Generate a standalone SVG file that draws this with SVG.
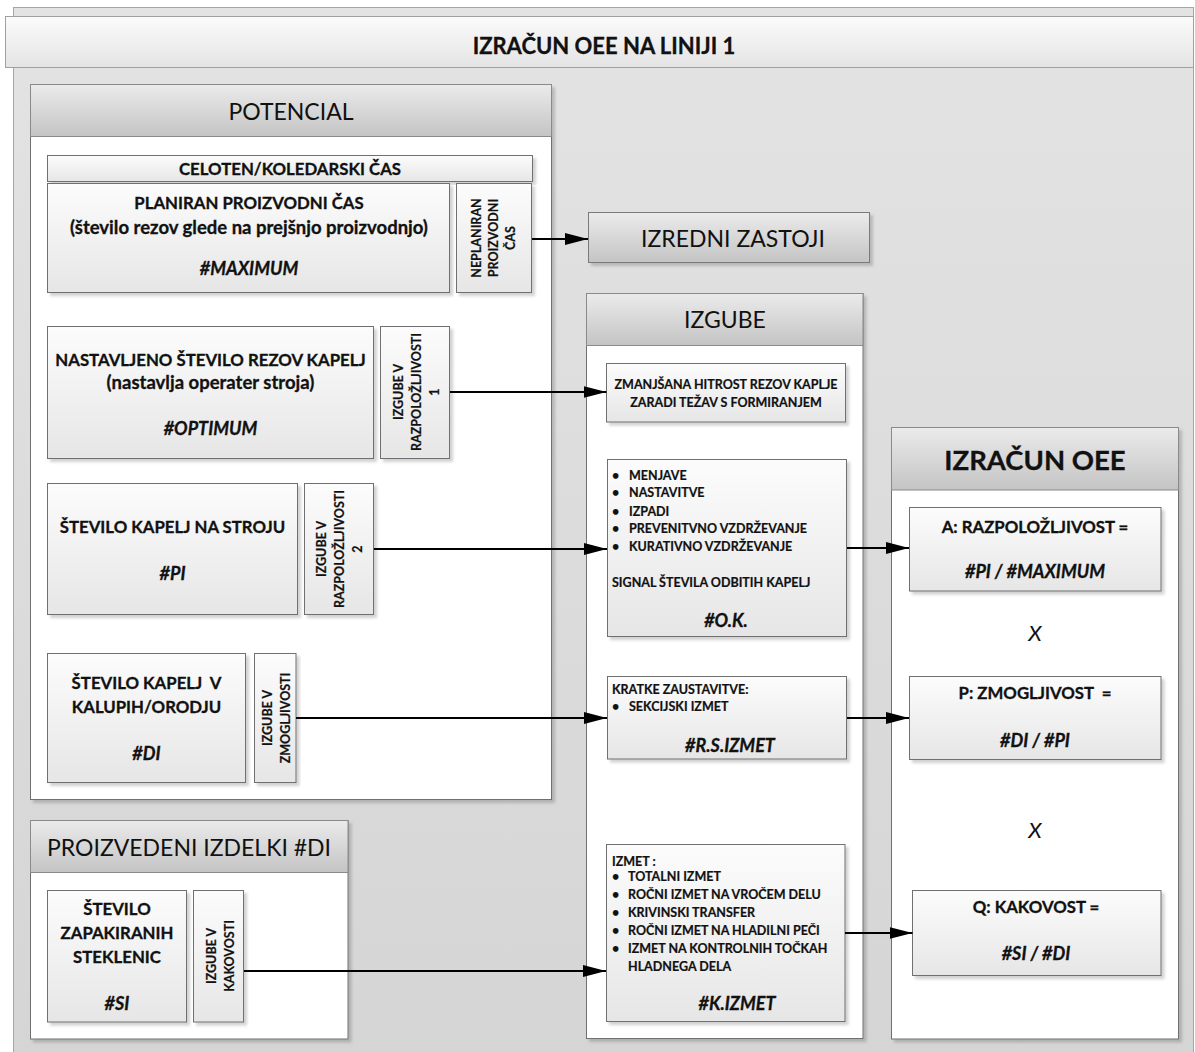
<svg xmlns="http://www.w3.org/2000/svg" width="1195" height="1052" viewBox="0 0 1195 1052">
  <style>
    text { font-family: Lato, "Liberation Sans", sans-serif; fill: #111; }
    .c { text-anchor: middle; }
    .b { font-weight: bold; stroke: #111; stroke-width: 0.3; }
    .hdr { font-size: 23px; text-anchor: middle; }
    .t16 { font-size: 16.8px; font-weight: bold; text-anchor: middle; stroke: #111; stroke-width: 0.3; }
    .low { font-size: 18.5px; }
    .i { font-style: italic; font-weight: bold; font-size: 18px; }
    .t12 { font-size: 12.5px; font-weight: bold; stroke: #111; stroke-width: 0.2; }
    .rot { font-size: 12.5px; font-weight: bold; text-anchor: middle; stroke: #111; stroke-width: 0.2; }
    .x { font-style: italic; font-size: 22px; text-anchor: middle; }
    .node { fill: url(#gBox); stroke: #6f6f6f; stroke-width: 1; filter: url(#shadow); }
    .cont { fill: #fff; stroke: #6f6f6f; stroke-width: 1; filter: url(#shadow); }
    .chead { fill: url(#gHead); stroke: #8a8a8a; stroke-width: 1; }
    .wire { stroke: #000; stroke-width: 2.2; fill: none; marker-end: url(#arrow); }
  </style>
  <defs>
    <linearGradient id="gBg" x1="0" y1="0" x2="0" y2="1">
      <stop offset="0" stop-color="#e3e3e3"/>
      <stop offset="1" stop-color="#d5d5d5"/>
    </linearGradient>
    <linearGradient id="gTitle" x1="0" y1="0" x2="0" y2="1">
      <stop offset="0" stop-color="#fbfbfb"/>
      <stop offset="1" stop-color="#e4e4e4"/>
    </linearGradient>
    <linearGradient id="gHead" x1="0" y1="0" x2="0" y2="1">
      <stop offset="0" stop-color="#ebebeb"/>
      <stop offset="1" stop-color="#c4c4c4"/>
    </linearGradient>
    <linearGradient id="gBox" x1="0" y1="0" x2="0" y2="1">
      <stop offset="0" stop-color="#fcfcfc"/>
      <stop offset="1" stop-color="#e6e6e6"/>
    </linearGradient>
    <filter id="shadow" x="-5%" y="-5%" width="115%" height="115%">
      <feDropShadow dx="3" dy="3" stdDeviation="1.5" flood-color="#000" flood-opacity="0.18"/>
    </filter>
    <marker id="arrow" markerUnits="userSpaceOnUse" markerWidth="24" markerHeight="14" refX="23" refY="7" orient="auto">
      <path d="M0,1 L23,7 L0,13 z" fill="#000"/>
    </marker>
  </defs>

  <!-- page background and title bar -->
  <rect x="13.5" y="7.5" width="1180" height="1060" fill="url(#gBg)" stroke="#a6a6a6"/>
  <g id="title">
    <rect x="5.5" y="16.5" width="1188" height="51" fill="url(#gTitle)" stroke="#a0a0a0"/>
    <text x="604" y="54" class="b c" font-size="22">IZRAČUN OEE NA LINIJI 1</text>
  </g>

  <!-- POTENCIAL group -->
  <g id="potencial">
    <rect x="30.5" y="84.5" width="521" height="715" class="cont"/>
    <rect x="30.5" y="84.5" width="521" height="52" class="chead"/>
    <text x="291" y="120" class="hdr">POTENCIAL</text>
  </g>
  <g id="celoten">
    <rect x="47.5" y="155.5" width="485" height="26" class="node"/>
    <text x="290" y="175" class="t16" font-size="16">CELOTEN/KOLEDARSKI ČAS</text>
  </g>
  <g id="planiran">
    <rect x="47.5" y="183.5" width="402" height="109" class="node"/>
    <text x="249" y="209" class="t16" font-size="16.2">PLANIRAN PROIZVODNI ČAS</text>
    <text x="249" y="233.5" class="t16 low">(število rezov glede na prejšnjo proizvodnjo)</text>
    <text x="249" y="274.5" class="t16 i">#MAXIMUM</text>
  </g>
  <g id="neplaniran">
    <rect x="456.5" y="183.5" width="75" height="109" class="node"/>
    <g transform="translate(493,238) rotate(-90)">
      <text x="0" y="-12.5" class="rot">NEPLANIRAN</text>
      <text x="0" y="4.5" class="rot">PROIZVODNI</text>
      <text x="0" y="21.5" class="rot">ČAS</text>
    </g>
  </g>
  <g id="nastavljeno">
    <rect x="47.5" y="326.5" width="326" height="132" class="node"/>
    <text x="210.5" y="366" class="t16">NASTAVLJENO ŠTEVILO REZOV KAPELJ</text>
    <text x="210.5" y="388.5" class="t16 low">(nastavlja operater stroja)</text>
    <text x="210.5" y="434.5" class="t16 i">#OPTIMUM</text>
  </g>
  <g id="izgube-r1">
    <rect x="380.5" y="326.5" width="69" height="132" class="node"/>
    <g transform="translate(416,392) rotate(-90)">
      <text x="0" y="-13.5" class="rot">IZGUBE V</text>
      <text x="0" y="4.5" class="rot">RAZPOLOŽLJIVOSTI</text>
      <text x="0" y="22.5" class="rot">1</text>
    </g>
  </g>
  <g id="stevilo-stroj">
    <rect x="47.5" y="483.5" width="250" height="131" class="node"/>
    <text x="172.5" y="533" class="t16">ŠTEVILO KAPELJ NA STROJU</text>
    <text x="172.5" y="579.5" class="t16 i">#PI</text>
  </g>
  <g id="izgube-r2">
    <rect x="304.5" y="483.5" width="69" height="131" class="node"/>
    <g transform="translate(339,549) rotate(-90)">
      <text x="0" y="-13.5" class="rot">IZGUBE V</text>
      <text x="0" y="4.5" class="rot">RAZPOLOŽLJIVOSTI</text>
      <text x="0" y="22.5" class="rot">2</text>
    </g>
  </g>
  <g id="stevilo-kalupi">
    <rect x="47.5" y="653.5" width="198" height="129" class="node"/>
    <text x="146.5" y="689" class="t16" xml:space="preserve">ŠTEVILO KAPELJ  V</text>
    <text x="146.5" y="713" class="t16">KALUPIH/ORODJU</text>
    <text x="146.5" y="759.5" class="t16 i">#DI</text>
  </g>
  <g id="izgube-zmog">
    <rect x="254.5" y="653.5" width="41.5" height="129" class="node"/>
    <g transform="translate(276,718) rotate(-90)">
      <text x="0" y="-4.5" class="rot">IZGUBE V</text>
      <text x="0" y="13.5" class="rot">ZMOGLJIVOSTI</text>
    </g>
  </g>

  <!-- PROIZVEDENI IZDELKI group -->
  <g id="proizvedeni">
    <rect x="30.5" y="820.5" width="317.5" height="218.5" class="cont"/>
    <rect x="30.5" y="820.5" width="317.5" height="52" class="chead"/>
    <text x="189" y="856" class="hdr" font-size="22.5">PROIZVEDENI IZDELKI #DI</text>
  </g>
  <g id="zapakirane">
    <rect x="47.5" y="890.5" width="139" height="131.5" class="node"/>
    <text x="117" y="915" class="t16">ŠTEVILO</text>
    <text x="117" y="939" class="t16">ZAPAKIRANIH</text>
    <text x="117" y="963" class="t16">STEKLENIC</text>
    <text x="117" y="1009.5" class="t16 i">#SI</text>
  </g>
  <g id="izgube-kak">
    <rect x="193.5" y="890.5" width="50" height="131.5" class="node"/>
    <g transform="translate(220,956) rotate(-90)">
      <text x="0" y="-4.5" class="rot">IZGUBE V</text>
      <text x="0" y="13.5" class="rot">KAKOVOSTI</text>
    </g>
  </g>

  <!-- extraordinary stops -->
  <g id="izredni">
    <rect x="588.5" y="212.5" width="281" height="50" fill="url(#gHead)" stroke="#7a7a7a" filter="url(#shadow)"/>
    <text x="733" y="246.5" class="hdr" font-size="24">IZREDNI ZASTOJI</text>
  </g>

  <!-- IZGUBE group -->
  <g id="izgube">
    <rect x="586.5" y="293.5" width="276.5" height="745" class="cont"/>
    <rect x="586.5" y="293.5" width="276.5" height="52" class="chead"/>
    <text x="725" y="328" class="hdr">IZGUBE</text>
  </g>
  <g id="zmanjsana">
    <rect x="606.5" y="363.5" width="239" height="58.5" class="node"/>
    <text x="726" y="388.5" class="t12 c">ZMANJŠANA HITROST REZOV KAPLJE</text>
    <text x="726" y="406.5" class="t12 c">ZARADI TEŽAV S FORMIRANJEM</text>
  </g>
  <g id="menjave">
    <rect x="607.5" y="459.5" width="239" height="177" class="node"/>
    <g class="t12">
      <text x="612" y="479.5">•</text><text x="629" y="479.5">MENJAVE</text>
      <text x="612" y="497">•</text><text x="629" y="497">NASTAVITVE</text>
      <text x="612" y="515.5">•</text><text x="629" y="515.5">IZPADI</text>
      <text x="612" y="533">•</text><text x="629" y="533">PREVENITVNO VZDRŽEVANJE</text>
      <text x="612" y="550.5">•</text><text x="629" y="550.5">KURATIVNO VZDRŽEVANJE</text>
      <text x="612" y="587">SIGNAL ŠTEVILA ODBITIH KAPELJ</text>
    </g>
    <text x="726" y="626.5" class="t16 i">#O.K.</text>
  </g>
  <g id="kratke">
    <rect x="607.5" y="676.5" width="239" height="82.5" class="node"/>
    <g class="t12">
      <text x="612" y="693.5">KRATKE ZAUSTAVITVE:</text>
      <text x="612" y="711">•</text><text x="629" y="711">SEKCIJSKI IZMET</text>
    </g>
    <text x="730" y="751.5" class="t16 i">#R.S.IZMET</text>
  </g>
  <g id="izmet">
    <rect x="606.5" y="844.5" width="238.5" height="177" class="node"/>
    <g class="t12">
      <text x="612" y="866">IZMET :</text>
      <text x="612" y="881">•</text><text x="628" y="881">TOTALNI IZMET</text>
      <text x="612" y="899">•</text><text x="628" y="899">ROČNI IZMET NA VROČEM DELU</text>
      <text x="612" y="917">•</text><text x="628" y="917">KRIVINSKI TRANSFER</text>
      <text x="612" y="934.5">•</text><text x="628" y="934.5">ROČNI IZMET NA HLADILNI PEČI</text>
      <text x="612" y="953">•</text><text x="628" y="953">IZMET NA KONTROLNIH TOČKAH</text>
      <text x="628" y="971">HLADNEGA DELA</text>
    </g>
    <text x="737" y="1009.5" class="t16 i">#K.IZMET</text>
  </g>

  <!-- IZRAČUN OEE group -->
  <g id="izracun">
    <rect x="891.5" y="427.5" width="287" height="611.5" class="cont"/>
    <rect x="891.5" y="427.5" width="287" height="62.5" class="chead"/>
    <text x="1035" y="470" class="b c" font-size="27.5">IZRAČUN OEE</text>
  </g>
  <g id="razpolozljivost">
    <rect x="909.5" y="507.5" width="251.5" height="83.5" class="node"/>
    <text x="1035" y="532.5" class="t16">A: RAZPOLOŽLJIVOST =</text>
    <text x="1035" y="578" class="t16 i">#PI / #MAXIMUM</text>
  </g>
  <text x="1035" y="641" class="x">X</text>
  <g id="zmogljivost">
    <rect x="909.5" y="676.5" width="251.5" height="83" class="node"/>
    <text x="1035" y="699" class="t16" xml:space="preserve">P: ZMOGLJIVOST  =</text>
    <text x="1035" y="746.5" class="t16 i">#DI / #PI</text>
  </g>
  <text x="1035" y="838" class="x">X</text>
  <g id="kakovost">
    <rect x="912.5" y="890.5" width="248.5" height="85" class="node"/>
    <text x="1036" y="912.5" class="t16">Q: KAKOVOST =</text>
    <text x="1036" y="960" class="t16 i">#SI / #DI</text>
  </g>

  <!-- connectors -->
  <g id="connectors">
    <line x1="532" y1="239" x2="588" y2="239" class="wire"/>
    <line x1="450" y1="392" x2="606.5" y2="392" class="wire"/>
    <line x1="374" y1="549" x2="607" y2="549" class="wire"/>
    <line x1="296" y1="718" x2="607" y2="718" class="wire"/>
    <line x1="244" y1="971" x2="606" y2="971" class="wire"/>
    <line x1="847" y1="548" x2="909" y2="548" class="wire"/>
    <line x1="847" y1="718" x2="909" y2="718" class="wire"/>
    <line x1="845" y1="933" x2="912.5" y2="933" class="wire"/>
  </g>
</svg>
